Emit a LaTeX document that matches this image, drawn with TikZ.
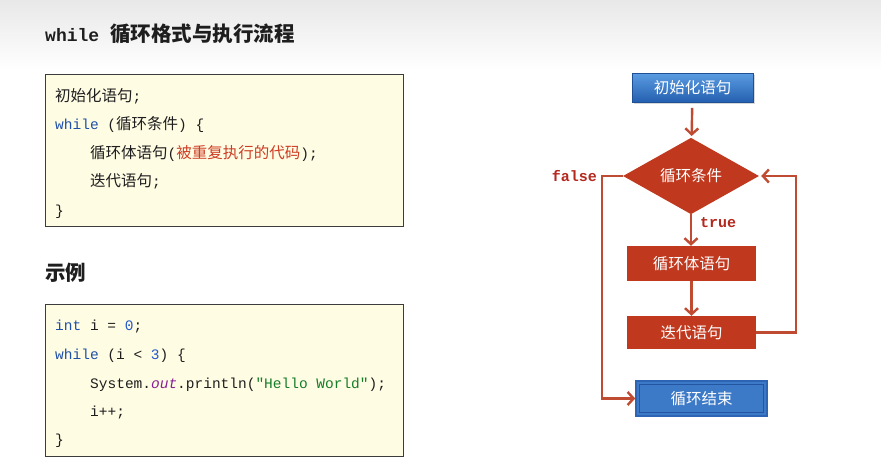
\documentclass[tikz,border=0pt]{standalone}
\usepackage{fontspec}
\setmonofont{Liberation Mono}
\newfontfamily\cjk{Noto Sans CJK SC}
\usetikzlibrary{shapes.geometric,arrows.meta,shadows}
\definecolor{bgtop}{RGB}{232,232,232}
\definecolor{codebg}{RGB}{255,252,228}
\definecolor{codeborder}{RGB}{60,60,60}
\definecolor{txt}{RGB}{30,30,30}
\definecolor{kw}{RGB}{30,80,170}
\definecolor{num}{RGB}{40,90,200}
\definecolor{fld}{RGB}{135,30,150}
\definecolor{str}{RGB}{20,125,40}
\definecolor{hl}{RGB}{205,60,35}
\definecolor{flowred}{RGB}{192,57,30}
\definecolor{flowline}{RGB}{190,75,50}
\definecolor{lbl}{RGB}{180,40,30}
\definecolor{bluetop}{RGB}{90,155,225}
\definecolor{bluebot}{RGB}{35,95,175}
\definecolor{blueedge}{RGB}{30,80,150}
\definecolor{endfill}{RGB}{60,122,200}
\definecolor{endedge}{RGB}{45,100,180}
\definecolor{endinner}{RGB}{35,85,160}
\begin{document}
\begin{tikzpicture}[x=1pt,y=-1pt,
  codebox/.style={draw=codeborder,line width=1.2pt,fill=codebg,anchor=north west,inner sep=0pt},
  codeline/.style={anchor=base west,inner sep=0pt,text=txt,font=\ttfamily\fontsize{14.5}{17}\selectfont},
  cjkcode/.style={},
  heading/.style={anchor=base west,inner sep=0pt,text=txt},
  redbox/.style={fill=flowred,text=white,inner sep=0pt,minimum width=129pt,font=\cjk\fontsize{15.5}{18}\selectfont},
  cond/.style={diamond,fill=flowred,text=white,inner sep=0pt,minimum width=136pt,minimum height=66pt,font=\cjk\fontsize{15.5}{18}\selectfont},
  initbox/.style={draw=blueedge,line width=0.8pt,top color=bluetop,bottom color=bluebot,text=white,inner sep=0pt,minimum width=121pt,minimum height=29pt,font=\cjk\fontsize{15.5}{18}\selectfont,drop shadow={opacity=0.3,shadow xshift=1.5pt,shadow yshift=-1.5pt}},
  endbox/.style={draw=endedge,line width=1.5pt,fill=endfill,text=white,inner sep=0pt,minimum width=131pt,minimum height=35pt,font=\cjk\fontsize{15.5}{18}\selectfont},
  flow/.style={draw=flowline,line width=2.4pt,-{Straight Barb[length=6pt,width=13pt]}},
  flowlbl/.style={inner sep=0pt,text=lbl,font=\ttfamily\bfseries\fontsize{15}{18}\selectfont}
]
\useasboundingbox (0,0) rectangle (881,464);
\fill[white] (0,0) rectangle (881,464);
\shade[top color=bgtop,bottom color=white] (0,0) rectangle (881,70);

% title
\node[heading] (title) at (45,41) {\ttfamily\bfseries\fontsize{18}{22}\selectfont while {\cjk\bfseries\fontsize{20.5}{24}\selectfont 循环格式与执行流程}};

% box 1
\node[codebox,minimum width=358pt,minimum height=152pt] (box1) at (45,74) {};
\node[codeline] (l1) at (55,101) {{\cjk\fontsize{15.5}{17}\selectfont 初始化语句};};
\node[codeline] (l2) at (55,129) {\textcolor{kw}{while} ({\cjk\fontsize{15.5}{17}\selectfont 循环条件}) \{};
\node[codeline] (l3) at (90,158) {{\cjk\fontsize{15.5}{17}\selectfont 循环体语句}({\cjk\fontsize{15.5}{17}\selectfont\color{hl}被重复执行的代码});};
\node[codeline] (l4) at (90,186) {{\cjk\fontsize{15.5}{17}\selectfont 迭代语句};};
\node[codeline] (l5) at (55,215) {\}};

% example heading
\node[heading] (ex) at (45,280) {\cjk\bfseries\fontsize{20.5}{24}\selectfont 示例};

% box 2
\node[codebox,minimum width=358pt,minimum height=152pt] (box2) at (45,304) {};
\node[codeline] (m1) at (55,330) {\textcolor{kw}{int} i = \textcolor{num}{0};};
\node[codeline] (m2) at (55,359) {\textcolor{kw}{while} (i < \textcolor{num}{3}) \{};
\node[codeline] (m3) at (90,388) {System.\textcolor{fld}{\itshape out}.println(\textcolor{str}{"Hello World"});};
\node[codeline] (m4) at (90,416) {i++;};
\node[codeline] (m5) at (55,444) {\}};

% flowchart
\node[initbox] (init) at (692.5,88) {初始化语句};
\node[cond] (cond) at (691,176) {循环条件};
\node[redbox,minimum height=35pt] (body) at (691.5,263.5) {循环体语句};
\node[redbox,minimum height=33pt] (iter) at (691.5,332.5) {迭代语句};
\node[endbox] (end) at (701.5,398.5) {循环结束};
\draw[endinner,line width=0.9pt] ([shift={(4,4)}]end.north west) rectangle ([shift={(-4,-4)}]end.south east);

\coordinate (backx) at (796,0);
\coordinate (falsex) at (602,0);

\draw[flow,shorten <=5pt,shorten >=2pt] (init) -- (cond);
\draw[flow] (cond.south) -- (cond.south |- body.north);
\draw[flow] (body) -- (iter);
\draw[flow] (iter.east) -- (iter.east -| backx) -- (cond.east -| backx) -- ([xshift=2pt]cond.east);
\draw[flow] (cond.west) -- (cond.west -| falsex) -- (end.west -| falsex) -- (end.west);

\node[flowlbl,anchor=east] (lfalse) at (597,176) {false};
\node[flowlbl,anchor=west] (ltrue) at (700,223) {true};
\end{tikzpicture}
\end{document}
